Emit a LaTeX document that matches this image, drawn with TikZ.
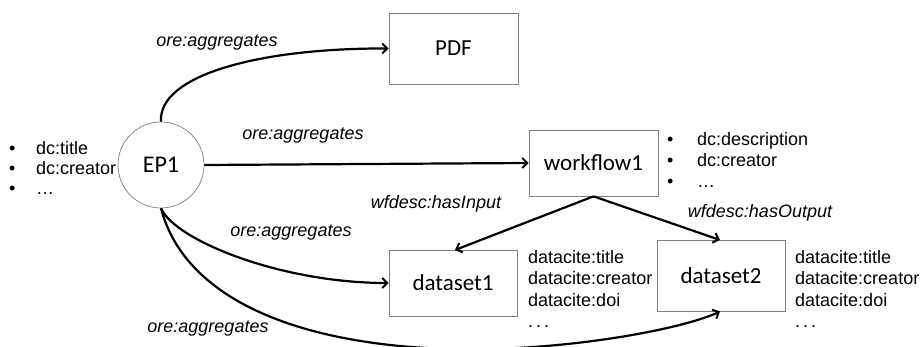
\documentclass[tikz,border=0pt]{standalone}
\usepackage{fontspec}
\setmainfont{Liberation Sans}
\newfontfamily\boxfont{Carlito}
\usetikzlibrary{arrows.meta}
\definecolor{boxline}{RGB}{128,128,128}
\newcommand{\bul}[1]{\makebox[#1][l]{•}}
\tikzset{
  box/.style={draw=boxline, line width=0.7pt, fill=white, minimum width=#1, font=\boxfont\fontsize{23}{26}\selectfont, inner sep=0pt},
  lbl/.style={font=\fontsize{18}{20}\selectfont\itshape, inner sep=0pt},
  info/.style={font=\fontsize{18}{#1}\selectfont, inner sep=0pt, anchor=north west, align=left},
  conn/.style={line width=2.2pt, -{Straight Barb[length=5pt,width=10pt,line width=2pt]}}
}
\begin{document}
\begin{tikzpicture}[x=1pt,y=-1pt]
\clip (0,0) rectangle (922,347);
\fill[white] (0,0) rectangle (922,347);
% left info list (under the circle)
\node[info=20pt] (ltxt) at (9,141) {\bul{27pt}dc:title\\\bul{27pt}dc:creator\\\bul{27pt}\ldots};
% nodes
\node[box=129pt, minimum height=71pt] (pdf) at (453.5,48.5) {PDF};
\node[box=129pt, minimum height=66pt] (wf) at (593.5,163) {workflow1};
\node[box=128pt, minimum height=66pt] (ds1) at (453,283) {dataset1};
\node[box=128pt, minimum height=71pt] (ds2) at (721,275.5) {dataset2};
\node[draw=boxline, line width=0.7pt, fill=white, circle, minimum size=86pt, inner sep=0pt, font=\boxfont\fontsize{24}{26}\selectfont] (ep) at (161,165) {EP1};
% connectors
\draw[conn] (ep.north) .. controls (158,75) and (260,48) .. (pdf.west);
\draw[conn] (ep.east) -- (wf.west);
\draw[conn] (ep.south) .. controls (175,240) and (280,283) .. (ds1.west);
\coordinate (d2b) at (720,311.5);
\coordinate (low) at (450,349);
\draw[conn] (ep.south) .. controls (185,300) and (300,345) .. (low) .. controls (560,352) and (680,330) .. (d2b);
\coordinate (d1t) at (455,250);
\coordinate (d2t) at (720,240);
\draw[conn] (wf.south) -- (d1t);
\draw[conn] (wf.south) -- (d2t);
% labels
\node[lbl] (l1) at (217,43) {ore:aggregates};
\node[lbl] (l2) at (303,136) {ore:aggregates};
\node[lbl] (l3) at (291,233) {ore:aggregates};
\node[lbl] (l4) at (208,329) {ore:aggregates};
\node[lbl] (l5) at (436,204) {wfdesc:hasInput};
\node[lbl] (l6) at (760,213) {wfdesc:hasOutput};
% info lists
\node[info=21pt] (wtxt) at (667,132) {\bul{30pt}dc:description\\\bul{30pt}dc:creator\\\bul{30pt}\ldots};
\node[info=21.5pt] (d1txt) at (528,250) {datacite:title\\datacite:creator\\datacite:doi\\.\,.\,.};
\node[info=21.5pt] (d2txt) at (795,250) {datacite:title\\datacite:creator\\datacite:doi\\.\,.\,.};
\end{tikzpicture}
\end{document}
